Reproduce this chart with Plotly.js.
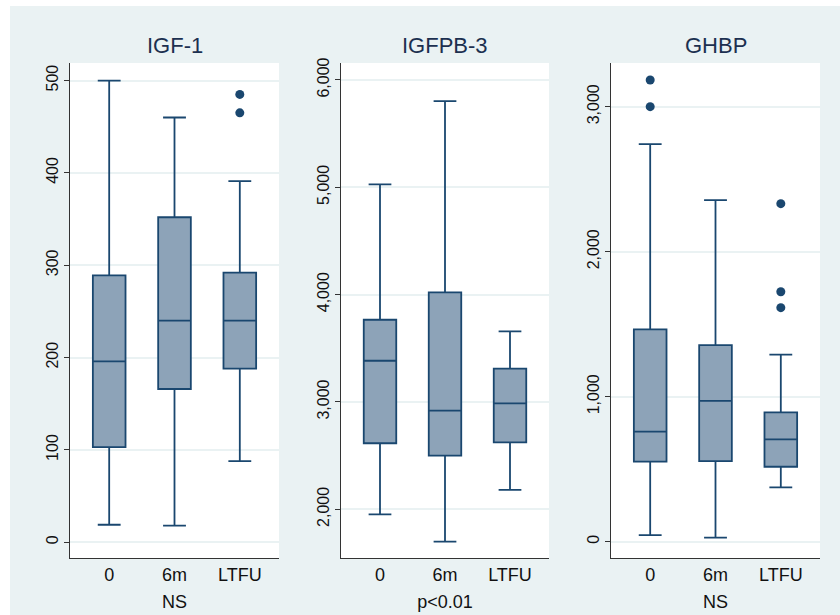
<!DOCTYPE html>
<html>
<head>
<meta charset="utf-8">
<script src="https://cdn.plot.ly/plotly-3.0.1.min.js"></script>
<style>
  html, body { margin: 0; padding: 0; background: #ffffff; width: 840px; height: 615px; overflow: hidden; }
  #chart { position: absolute; left: 10px; top: 6px; width: 830px; height: 609px; }
</style>
</head>
<body>
<div id="chart"></div>
<script>
// ---- data ----
const groups = ['0', '6m', 'LTFU'];
const panelTitles = ['IGF-1', 'IGFPB-3', 'GHBP'];
const panelNotes = ['NS', 'p<0.01', 'NS'];

// IGF-1
const igf1Lower  = [19, 18, 88];
const igf1Q1     = [103, 166, 188];
const igf1Median = [196, 240, 240];
const igf1Q3     = [289, 352, 292];
const igf1Upper  = [500, 460, 391];
const igf1OutX   = ['LTFU', 'LTFU'];
const igf1OutY   = [485, 465];

// IGFBP-3
const igfbp3Lower  = [1953, 1699, 2180];
const igfbp3Q1     = [2615, 2500, 2624];
const igfbp3Median = [3384, 2919, 2987];
const igfbp3Q3     = [3766, 4021, 3310];
const igfbp3Upper  = [5028, 5802, 3657];

// GHBP
const ghbpLower  = [46, 28, 375];
const ghbpQ1     = [552, 556, 517];
const ghbpMedian = [759, 972, 706];
const ghbpQ3     = [1465, 1356, 892];
const ghbpUpper  = [2741, 2356, 1290];
const ghbpOutX   = ['0', '0', 'LTFU', 'LTFU', 'LTFU'];
const ghbpOutY   = [3184, 3000, 2331, 1724, 1614];

// ---- styling ----
const NAVY = '#1a476f';
const FILL = '#8da3b8';
const BG = '#eaf2f3';
const FONT = 'Liberation Sans, Arial, Helvetica, sans-serif';

function boxTrace(xa, ya, lo, q1, med, q3, up) {
  return {
    type: 'box', xaxis: xa, yaxis: ya,
    x: groups, lowerfence: lo, q1: q1, median: med, q3: q3, upperfence: up,
    boxpoints: false, width: 0.5, whiskerwidth: 0.7,
    fillcolor: FILL, line: { color: NAVY, width: 1.8 },
    showlegend: false, hoverinfo: 'skip'
  };
}
function outTrace(xa, ya, xs, ys) {
  return {
    type: 'scatter', mode: 'markers', xaxis: xa, yaxis: ya,
    x: xs, y: ys, marker: { color: NAVY, size: 9 },
    showlegend: false, hoverinfo: 'skip'
  };
}

const data = [
  boxTrace('x', 'y', igf1Lower, igf1Q1, igf1Median, igf1Q3, igf1Upper),
  outTrace('x', 'y', igf1OutX, igf1OutY),
  boxTrace('x2', 'y2', igfbp3Lower, igfbp3Q1, igfbp3Median, igfbp3Q3, igfbp3Upper),
  boxTrace('x3', 'y3', ghbpLower, ghbpQ1, ghbpMedian, ghbpQ3, ghbpUpper),
  outTrace('x3', 'y3', ghbpOutX, ghbpOutY)
];

const W = 830, H = 609;
const yDom = [(H - 552) / H, (H - 57) / H];
const xDoms = [[60 / W, 269 / W], [331 / W, 539 / W], [601 / W, 810 / W]];

function xAxis(i) {
  return {
    domain: xDoms[i], anchor: i === 0 ? 'y' : 'y' + (i + 1),
    type: 'category', categoryorder: 'array', categoryarray: groups,
    range: [-0.6, 2.6], showline: true, linecolor: '#333333', linewidth: 1,
    ticks: '', showgrid: false, zeroline: false,
    tickfont: { family: FONT, size: 18, color: '#111111' },
    title: { text: panelNotes[i], font: { family: FONT, size: 18, color: '#111111' }, standoff: 11 },
    fixedrange: true
  };
}
function yAxis(i, range, tickvals, fmt) {
  return {
    domain: yDom, anchor: i === 0 ? 'x' : 'x' + (i + 1),
    range: range, tickvals: tickvals, tickformat: fmt,
    showline: true, linecolor: '#333333', linewidth: 1,
    ticks: 'outside', ticklen: 5, tickcolor: '#333333', tickwidth: 1,
    tickangle: -90, tickfont: { family: FONT, size: 16, color: '#111111' },
    showgrid: true, gridcolor: BG, gridwidth: 2, zeroline: false,
    fixedrange: true
  };
}

const annotations = panelTitles.map((t, i) => ({
  text: t, xref: 'paper', yref: 'paper',
  x: (xDoms[i][0] + xDoms[i][1]) / 2, y: 1 - 39 / H,
  xanchor: 'center', yanchor: 'middle', showarrow: false,
  font: { family: FONT, size: 22, color: '#1c3050' }
}));

const layout = {
  width: W, height: H,
  margin: { l: 0, r: 0, t: 0, b: 0, pad: 0 },
  paper_bgcolor: BG, plot_bgcolor: '#ffffff',
  showlegend: false,
  xaxis: xAxis(0), xaxis2: xAxis(1), xaxis3: xAxis(2),
  yaxis: yAxis(0, [-17, 519], [0, 100, 200, 300, 400, 500], 'd'),
  yaxis2: yAxis(1, [1546, 6158], [2000, 3000, 4000, 5000, 6000], ',d'),
  yaxis3: yAxis(2, [-112, 3301], [0, 1000, 2000, 3000], ',d'),
  annotations: annotations
};

Plotly.newPlot('chart', data, layout, { staticPlot: true, displayModeBar: false });
</script>
</body>
</html>
